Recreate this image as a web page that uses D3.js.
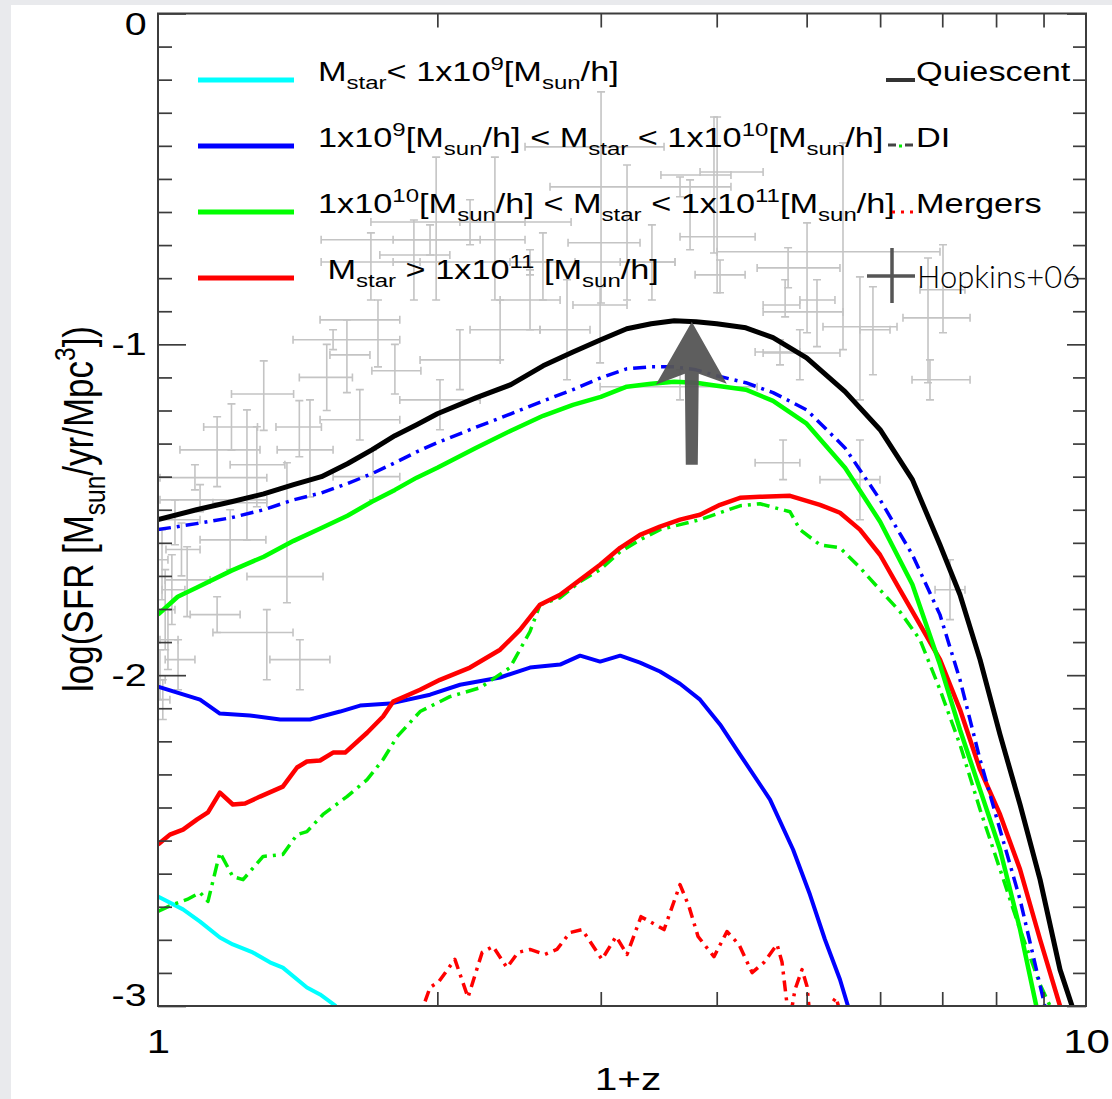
<!DOCTYPE html>
<html>
<head>
<meta charset="utf-8">
<script src="https://cdn.jsdelivr.net/npm/d3@7"></script>
<style>
html, body { margin: 0; padding: 0; background: #e9eaed; }
svg { display: block; }
text { font-family: "Liberation Sans", Arial, Helvetica, sans-serif; fill: #000; white-space: pre; }
</style>
</head>
<body>
<svg id="chart" width="1112" height="1099"></svg>
<script>
// ---- data: [1+z, log SFR density] ----
const quiescent = [[1.0,-1.530],[1.1,-1.500],[1.2,-1.476],[1.3,-1.452],[1.4,-1.424],[1.5,-1.400],[1.6,-1.361],[1.7,-1.319],[1.8,-1.276],[1.9,-1.243],[2.0,-1.210],[2.2,-1.162],[2.4,-1.122],[2.6,-1.065],[2.8,-1.023],[3.0,-0.986],[3.2,-0.953],[3.4,-0.938],[3.6,-0.929],[3.8,-0.932],[4.0,-0.938],[4.3,-0.950],[4.6,-0.980],[5.0,-1.041],[5.5,-1.143],[6.0,-1.258],[6.5,-1.409],[6.96,-1.606],[7.315,-1.757],[7.688,-1.953],[8.079,-2.180],[8.49,-2.391],[8.923,-2.618],[9.376,-2.890],[9.66,-3.0]];
const diBlue = [[1.0,-1.560],[1.1,-1.542],[1.2,-1.524],[1.3,-1.500],[1.4,-1.470],[1.5,-1.449],[1.6,-1.421],[1.7,-1.391],[1.8,-1.358],[1.9,-1.325],[2.0,-1.297],[2.2,-1.251],[2.4,-1.210],[2.6,-1.171],[2.8,-1.137],[3.0,-1.101],[3.2,-1.074],[3.4,-1.068],[3.6,-1.068],[3.8,-1.077],[4.0,-1.095],[4.3,-1.116],[4.6,-1.146],[5.0,-1.198],[5.5,-1.313],[6.0,-1.470],[6.5,-1.636],[6.96,-1.817],[7.315,-2.014],[7.688,-2.255],[8.079,-2.467],[8.49,-2.678],[9.03,-3.0]];
const massHigh = [[1.0,-1.817],[1.05,-1.763],[1.1,-1.736],[1.2,-1.684],[1.3,-1.642],[1.4,-1.594],[1.5,-1.555],[1.6,-1.518],[1.7,-1.476],[1.8,-1.440],[1.9,-1.403],[2.0,-1.373],[2.2,-1.313],[2.4,-1.261],[2.6,-1.216],[2.8,-1.183],[3.0,-1.159],[3.2,-1.128],[3.4,-1.119],[3.6,-1.113],[3.8,-1.116],[4.0,-1.125],[4.3,-1.137],[4.6,-1.171],[5.0,-1.240],[5.5,-1.373],[6.0,-1.536],[6.5,-1.726],[6.96,-1.968],[7.315,-2.165],[7.688,-2.346],[8.079,-2.527],[8.49,-2.768],[8.84,-3.0]];
const massTop = [[1.0,-2.512],[1.03,-2.482],[1.064,-2.467],[1.102,-2.436],[1.132,-2.415],[1.166,-2.355],[1.204,-2.391],[1.241,-2.388],[1.288,-2.367],[1.363,-2.337],[1.412,-2.279],[1.447,-2.261],[1.495,-2.258],[1.544,-2.234],[1.591,-2.234],[1.68,-2.174],[1.748,-2.125],[1.792,-2.080],[1.916,-2.044],[2.013,-2.014],[2.169,-1.977],[2.337,-1.923],[2.455,-1.863],[2.58,-1.787],[2.712,-1.757],[2.85,-1.712],[2.995,-1.666],[3.148,-1.615],[3.307,-1.576],[3.475,-1.551],[3.652,-1.530],[3.838,-1.515],[4.033,-1.485],[4.238,-1.464],[4.454,-1.461],[4.798,-1.458],[5.168,-1.485],[5.431,-1.509],[5.707,-1.560],[5.998,-1.636],[6.303,-1.742],[6.624,-1.847],[6.961,-1.953],[7.315,-2.104],[7.688,-2.285],[8.079,-2.421],[8.49,-2.587],[8.923,-2.799],[9.376,-3.0]];
const massMid = [[1.0,-2.035],[1.11,-2.074],[1.166,-2.116],[1.256,-2.122],[1.354,-2.134],[1.458,-2.134],[1.571,-2.110],[1.651,-2.092],[1.778,-2.086],[1.964,-2.059],[2.116,-2.029],[2.337,-2.007],[2.517,-1.977],[2.712,-1.968],[2.85,-1.941],[2.995,-1.959],[3.148,-1.941],[3.307,-1.962],[3.475,-1.989],[3.652,-2.026],[3.838,-2.074],[4.033,-2.149],[4.238,-2.240],[4.566,-2.376],[4.834,-2.527],[5.041,-2.663],[5.232,-2.799],[5.431,-2.920],[5.54,-3.0]];
const massLow = [[1.0,-2.669],[1.064,-2.708],[1.11,-2.745],[1.166,-2.793],[1.204,-2.814],[1.265,-2.838],[1.32,-2.868],[1.363,-2.884],[1.447,-2.944],[1.495,-2.965],[1.555,-3.0]];
const diGreen = [[1.0,-2.714],[1.038,-2.693],[1.075,-2.678],[1.11,-2.657],[1.132,-2.684],[1.166,-2.536],[1.204,-2.609],[1.235,-2.618],[1.298,-2.548],[1.363,-2.542],[1.412,-2.482],[1.447,-2.473],[1.506,-2.421],[1.598,-2.367],[1.68,-2.316],[1.748,-2.255],[1.81,-2.186],[1.916,-2.110],[2.063,-2.065],[2.224,-2.038],[2.395,-1.977],[2.517,-1.868],[2.58,-1.787],[2.712,-1.766],[2.85,-1.717],[2.995,-1.681],[3.148,-1.627],[3.307,-1.591],[3.475,-1.560],[3.652,-1.545],[3.838,-1.530],[4.033,-1.509],[4.238,-1.488],[4.454,-1.482],[4.798,-1.506],[4.917,-1.560],[5.168,-1.606],[5.431,-1.615],[5.707,-1.675],[5.998,-1.742],[6.303,-1.808],[6.624,-1.893],[6.961,-2.044],[7.315,-2.210],[7.688,-2.406],[8.079,-2.587],[8.49,-2.769],[8.923,-2.935],[9.147,-3.0]];
const mergersRed = [[1.94,-2.986],[1.964,-2.944],[2.008,-2.926],[2.089,-2.859],[2.158,-2.974],[2.235,-2.838],[2.296,-2.820],[2.377,-2.884],[2.443,-2.838],[2.517,-2.829],[2.612,-2.844],[2.691,-2.829],[2.779,-2.778],[2.864,-2.769],[3.009,-2.859],[3.116,-2.790],[3.202,-2.844],[3.315,-2.730],[3.51,-2.769],[3.652,-2.633],[3.734,-2.699],[3.819,-2.790],[3.973,-2.851],[4.103,-2.775],[4.227,-2.814],[4.367,-2.899],[4.499,-2.868],[4.646,-2.814],[4.704,-2.868],[4.751,-2.971],[4.79,-3.05],[4.858,-2.950],[4.943,-2.890],[5.005,-2.941],[5.06,-3.08],[5.378,-2.974],[5.472,-3.05]];

// Hopkins+06 compilation: [1+z, 1+z low, 1+z high, logSFR, low, high]
const hopkins = [
  [1.010,1.000,1.025,-1.651,-1.772,-1.560],[1.018,1.000,1.043,-1.802,-1.923,-1.681],[1.025,1.005,1.051,-1.893,-1.983,-1.802],
  [1.035,1.010,1.069,-1.742,-1.847,-1.636],[1.043,1.000,1.110,-1.530,-1.606,-1.470],[1.075,1.018,1.138,-1.712,-1.823,-1.612],
  [1.096,1.005,1.310,-1.403,-1.440,-1.364],[1.110,1.005,1.310,-1.470,-1.506,-1.424],[1.158,1.056,1.288,-1.319,-1.430,-1.219],
  [1.158,1.083,1.226,-1.817,-1.871,-1.763],[1.196,1.110,1.307,-1.591,-1.681,-1.500],[1.247,1.146,1.310,-1.479,-1.591,-1.198],
  [1.278,1.196,1.370,-1.364,-1.491,-1.249],[1.310,1.146,1.398,-1.871,-2.014,-1.802],[1.377,1.247,1.506,-1.702,-1.781,-1.358],
  [1.458,1.344,1.544,-1.319,-1.461,-1.168],[1.422,1.320,1.532,-1.953,-2.044,-1.893],[1.598,1.532,1.692,-1.032,-1.146,-0.926],
  [1.726,1.495,1.822,-0.926,-1.068,-0.866],[1.705,1.544,1.822,-1.400,-1.470,-1.319],[1.544,1.398,1.822,-0.986,-1.016,-0.956],
  [1.650,1.495,1.822,-1.228,-1.289,-1.137],[1.696,1.499,1.916,-0.751,-0.866,-0.663],[1.887,1.734,2.063,-0.730,-0.866,-0.624],
  [1.994,1.792,2.224,-0.684,-0.866,-0.434],[2.307,2.115,2.486,-0.630,-0.866,-0.434],[2.169,1.696,2.787,-0.630,-0.699,-0.563],
  [1.964,1.499,2.486,-0.684,-0.730,-0.639],[2.599,2.395,2.814,-0.751,-0.866,-0.663],[3.002,2.486,3.510,-0.403,-0.875,-0.237],
  [3.202,2.766,3.307,-0.693,-0.866,-0.458],[3.406,3.148,3.607,-0.751,-0.866,-0.639],[3.973,3.483,4.144,-0.488,-0.724,-0.313],
  [3.652,2.645,4.144,-0.524,-0.554,-0.494],[2.517,1.792,3.607,-0.751,-0.790,-0.714],[2.995,2.800,3.202,-0.881,-1.056,-0.826],
  [2.759,2.580,2.921,-0.956,-1.107,-0.805],[2.115,1.916,2.337,-1.047,-1.137,-0.956],[2.337,2.169,2.580,-0.956,-1.047,-0.866],
  [2.517,2.337,2.712,-0.866,-0.956,-0.775],[2.013,1.822,2.224,-1.168,-1.258,-1.107],[3.744,3.652,4.400,-0.675,-0.714,-0.503],
  [4.004,3.838,4.488,-0.479,-0.844,-0.313],[4.033,3.791,4.292,-0.790,-0.844,-0.745],[4.775,4.422,5.431,-0.769,-0.829,-0.708],
  [5.005,4.488,5.472,-0.902,-0.965,-0.633],[5.130,4.917,5.364,-0.866,-1.007,-0.805],[5.472,4.004,6.961,-0.720,-1.016,-0.391],
  [5.707,5.207,6.257,-0.947,-1.168,-0.796],[5.894,5.707,6.149,-0.956,-1.092,-0.826],[6.757,6.350,7.500,-0.920,-1.116,-0.739],
  [7.013,6.624,7.406,-0.835,-0.965,-0.699],[6.790,6.494,7.500,-1.107,-1.168,-1.047],[4.917,4.488,5.431,-1.026,-1.107,-0.956],
  [4.716,4.400,4.917,-1.358,-1.409,-1.289],[4.740,4.488,4.917,-0.881,-0.917,-0.805],[3.652,2.995,4.422,-1.128,-1.168,-1.077],
  [4.680,4.400,4.917,-1.023,-1.062,-0.986],[5.707,5.168,5.998,-1.409,-1.530,-1.289],[7.136,6.876,7.406,-1.742,-1.832,-1.651],
  [1.005,1.000,1.018,-2.014,-2.074,-1.923],[1.012,1.000,1.030,-2.074,-2.134,-2.014],[1.051,1.018,1.096,-1.953,-2.044,-1.893],
  [1.300,1.200,1.400,-1.150,-1.260,-1.050],[1.520,1.420,1.620,-1.100,-1.200,-1.000],[1.800,1.700,1.920,-1.080,-1.150,-1.000],
  [1.200,1.120,1.280,-1.250,-1.320,-1.180],[1.420,1.340,1.500,-1.250,-1.340,-1.170],[1.060,1.020,1.110,-1.620,-1.700,-1.540]
];

// arrow annotation (1+z, from, to)
const arrowZ = 3.76, arrowFrom = -1.364, arrowTo = -0.932;

// tick values
const yMajor = [0, -1, -2, -3];
const yMinor = d3.range(-30, 1).filter(v => v % 10 !== 0).map(v => v / 10);
const xMajor = [1, 10];
const xMinor = [2, 3, 4, 5, 6, 7, 8, 9];

// legend labels (text, sub/sup)
const massLabels = [
  [["M"],["star","sub"],["< 1x10"],["9","sup"],["[M"],["sun","sub"],["/h]"]],
  [["1x10"],["9","sup"],["[M"],["sun","sub"],["/h] < M"],["star","sub"],[" < 1x10"],["10","sup"],["[M"],["sun","sub"],["/h]"]],
  [["1x10"],["10","sup"],["[M"],["sun","sub"],["/h] < M"],["star","sub"],[" < 1x10"],["11","sup"],["[M"],["sun","sub"],["/h]"]],
  [[" M"],["star","sub"],[" > 1x10"],["11","sup"],[" [M"],["sun","sub"],["/h]"]]
];
const massColors = ["#00ffff", "#0000ff", "#00ff00", "#ff0000"];
const typeLabels = ["Quiescent", "DI", "Mergers"];

// ---- layout ----
const W = 1112, H = 1099;
const x0 = 158, x1 = 1086, y0 = 13.5, y1 = 1006;
const SX = 1.27; // the original figure is stretched horizontally

const svg = d3.select("#chart");
svg.append("rect").attr("x", 11).attr("y", 5).attr("width", W - 11).attr("height", H - 5).attr("fill", "#fff");

const x = d3.scaleLog().domain([1, 10]).range([x0, x1]);
const y = d3.scaleLinear().domain([-3, 0]).range([y1, y0]);

svg.append("defs").append("clipPath").attr("id", "plot")
  .append("rect").attr("x", x0).attr("y", y0).attr("width", x1 - x0).attr("height", y1 - y0);

// Hopkins error crosses
const hop = svg.append("g").attr("clip-path", "url(#plot)").attr("stroke", "#c4c4c4").attr("stroke-width", 1.6).attr("fill", "none");
hopkins.forEach(d => {
  const cx = x(d[0]), cy = y(d[3]);
  const xl = x(d[1]), xr = x(d[2]), yb = y(d[4]), yt = y(d[5]);
  const p = `M${xl},${cy}H${xr}M${cx},${yb}V${yt}` +
    `M${xl},${cy - 4}V${cy + 4}M${xr},${cy - 4}V${cy + 4}` +
    `M${cx - 4},${yb}H${cx + 4}M${cx - 4},${yt}H${cx + 4}`;
  hop.append("path").attr("d", p);
});

// curves
const line = d3.line().x(d => x(d[0])).y(d => y(d[1]));
const series = [
  { data: massLow, color: "#00ffff", width: 4, dash: null },
  { data: massMid, color: "#0000ff", width: 4, dash: null },
  { data: mergersRed, color: "#ff0000", width: 3.5, dash: "11,6,3,6" },
  { data: diGreen, color: "#00ee00", width: 3.5, dash: "13,6,3,6" },
  { data: massTop, color: "#ff0000", width: 4.5, dash: null },
  { data: massHigh, color: "#00ff00", width: 4.5, dash: null },
  { data: diBlue, color: "#0000ff", width: 3.5, dash: "13,6,3,6" },
  { data: quiescent, color: "#000000", width: 5, dash: null }
];
const curves = svg.append("g").attr("clip-path", "url(#plot)");
series.forEach(s => {
  curves.append("path").datum(s.data)
    .attr("d", line)
    .attr("fill", "none")
    .attr("stroke", s.color)
    .attr("stroke-width", s.width)
    .attr("stroke-linejoin", "round")
    .attr("stroke-dasharray", s.dash);
});

// arrow
const ax = x(arrowZ), ayTip = y(arrowTo), ayBase = y(arrowFrom);
svg.append("path")
  .attr("d", `M${ax},${ayTip}L${ax + 35},${ayTip + 62}L${ax + 7},${ayTip + 52}L${ax + 6},${ayBase}L${ax - 6},${ayBase}` +
    `L${ax - 7},${ayTip + 52}L${ax - 36},${ayTip + 63}Z`)
  .attr("fill", "#555").attr("fill-opacity", 0.95);

// axes
function styleAxis(g) {
  g.select(".domain").remove();
  g.selectAll("line").attr("stroke", "#3c3c3c").attr("stroke-width", 1.7);
}
svg.append("g").attr("transform", `translate(${x0},0)`)
  .call(d3.axisLeft(y).tickValues(yMinor).tickSize(-14).tickFormat(""))
  .call(styleAxis);
const yl = svg.append("g").attr("transform", `translate(${x0},0)`)
  .call(d3.axisLeft(y).tickValues(yMajor).tickSize(-28).tickPadding(9).tickFormat(d => String(d)))
  .call(styleAxis);
yl.selectAll("text")
  .attr("font-family", "Liberation Sans, Arial, sans-serif")
  .attr("font-size", 31).attr("fill", "#000")
  .attr("transform", `scale(${SX},1)`)
  .attr("y", d => d === 0 ? 11 : d === -3 ? -10 : 0);

svg.append("g").attr("transform", `translate(${x1},0)`)
  .call(d3.axisRight(y).tickValues(yMinor).tickSize(-13).tickFormat(""))
  .call(styleAxis);
svg.append("g").attr("transform", `translate(${x1},0)`)
  .call(d3.axisRight(y).tickValues(yMajor).tickSize(-19).tickFormat(""))
  .call(styleAxis);

svg.append("g").attr("transform", `translate(0,${y0})`)
  .call(d3.axisTop(x).tickValues(xMinor).tickSize(-14).tickFormat(""))
  .call(styleAxis);
svg.append("g").attr("transform", `translate(0,${y1})`)
  .call(d3.axisBottom(x).tickValues(xMinor).tickSize(-14).tickFormat(""))
  .call(styleAxis);
const xl = svg.append("g").attr("transform", `translate(0,${y1})`)
  .call(d3.axisBottom(x).tickValues(xMajor).tickSize(0).tickPadding(24).tickFormat(d => String(d)))
  .call(styleAxis);
xl.selectAll("text")
  .attr("font-family", "Liberation Sans, Arial, sans-serif")
  .attr("font-size", 33).attr("fill", "#000")
  .attr("transform", `scale(${SX},1)`);

// frame
svg.append("rect").attr("x", x0).attr("y", y0).attr("width", x1 - x0).attr("height", y1 - y0)
  .attr("fill", "none").attr("stroke", "#3c3c3c").attr("stroke-width", 2);

// rich text helper (sub / superscripts)
function rich(t, parts, fs) {
  let cur = 0;
  parts.forEach(p => {
    const kind = p[1];
    const off = kind === "sub" ? fs * 0.28 : kind === "sup" ? -fs * 0.42 : 0;
    t.append("tspan").attr("dy", off - cur).attr("font-size", kind ? fs * 0.7 : fs).text(p[0]);
    cur = off;
  });
}

// axis titles
const xt = svg.append("text").attr("transform", `translate(628,1090) scale(${SX},1)`)
  .attr("text-anchor", "middle").attr("font-size", 32);
rich(xt, [["1+z"]], 32);
const yt = svg.append("text").attr("transform", `translate(93,509) scale(1.2,1) rotate(-90)`)
  .attr("text-anchor", "middle").attr("font-size", 35);
rich(yt, [["log(SFR [M"], ["sun", "sub"], ["/yr/Mpc"], ["3", "sup"], ["])"]], 35);

// mass legend
const legRows = [80, 146, 212, 278];
massLabels.forEach((lab, i) => {
  svg.append("line").attr("x1", 198).attr("x2", 294).attr("y1", legRows[i]).attr("y2", legRows[i])
    .attr("stroke", massColors[i]).attr("stroke-width", 5);
  const t = svg.append("text").attr("transform", `translate(318,${legRows[i] + 1}) scale(${SX},1)`)
    .attr("font-size", 27);
  rich(t, lab, 27);
});

// type legend
svg.append("line").attr("x1", 886).attr("x2", 915).attr("y1", legRows[0]).attr("y2", legRows[0])
  .attr("stroke", "#333").attr("stroke-width", 4);
svg.append("line").attr("x1", 888).attr("x2", 913).attr("y1", legRows[1] - 1).attr("y2", legRows[1] - 1)
  .attr("stroke", "#444").attr("stroke-width", 3).attr("stroke-dasharray", "8,9,8");
svg.append("line").attr("x1", 899).attr("x2", 902).attr("y1", legRows[1]).attr("y2", legRows[1])
  .attr("stroke", "#00ee00").attr("stroke-width", 3);
svg.append("line").attr("x1", 892).attr("x2", 914).attr("y1", legRows[2]).attr("y2", legRows[2])
  .attr("stroke", "#ff0000").attr("stroke-width", 3).attr("stroke-dasharray", "3,6");
typeLabels.forEach((lab, i) => {
  svg.append("text").attr("transform", `translate(916,${legRows[i] + 1}) scale(${SX},1)`)
    .attr("font-size", 27).text(lab);
});

// Hopkins legend
svg.append("path").attr("d", "M867,276H915M892,248V303").attr("stroke", "#555").attr("stroke-width", 3.5);
svg.append("text").attr("x", 917).attr("y", 288)
  .style("font-family", "Lato, 'Open Sans', sans-serif").style("font-weight", 300)
  .attr("font-size", 31).attr("fill", "#111").text("Hopkins+06");
</script>
</body>
</html>
